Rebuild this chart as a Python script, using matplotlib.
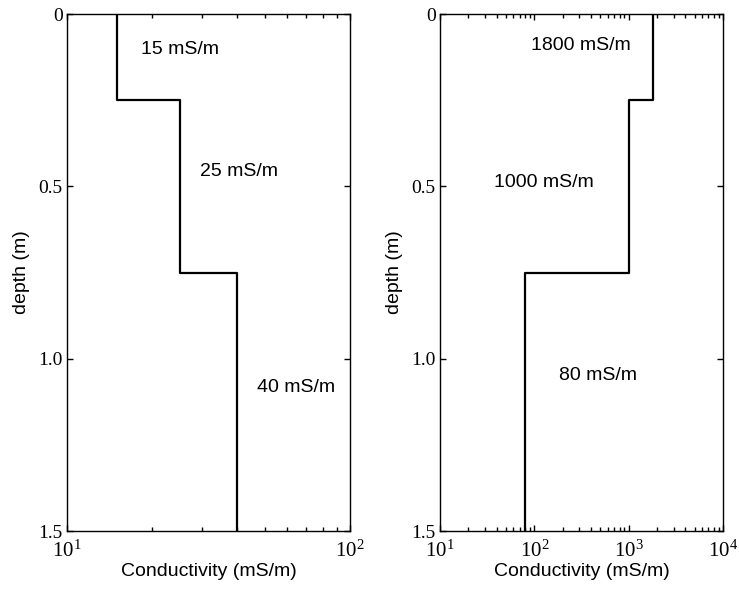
import matplotlib
matplotlib.use("Agg")
import matplotlib.pyplot as plt
from matplotlib.ticker import FixedLocator, FuncFormatter, NullFormatter
import numpy as np

# layer boundaries (m) and conductivities (mS/m)
depth_bounds = [0, 0.25, 0.75, 1.5]
cond_left = [15, 25, 40]
cond_right = [1800, 1000, 80]

labels_left = ['15 mS/m', '25 mS/m', '40 mS/m']
labels_right = ['1800 mS/m', '1000 mS/m', '80 mS/m']
# text anchor (left edge, centre) in data coords
lab_left_x = [18.3, 29.5, 47.0]
lab_left_y = [0.104, 0.458, 1.085]
lab_right_x = [92, 37, 183]
lab_right_y = [0.090, 0.490, 1.050]

yticks = [0, 0.5, 1.0, 1.5]
yticklabels = ['0', '0.5', '1.0', '1.5']

plt.rcParams['mathtext.default'] = 'regular'
sans = 'Liberation Sans'
serif = 'Liberation Serif'


def profile(cond):
    xs = []
    ys = []
    for i, c in enumerate(cond):
        xs += [c, c]
        ys += [depth_bounds[i], depth_bounds[i + 1]]
    return xs, ys


def logfmt(v, pos):
    return r'$\mathregular{10^{%d}}$' % int(round(np.log10(v)))


def setup(ax, dec_lo, dec_hi):
    ax.set_xscale('log')
    ax.set_xlim(10 ** dec_lo, 10 ** dec_hi)
    ax.set_ylim(1.5, 0)
    ax.yaxis.set_major_locator(FixedLocator(yticks))
    ax.set_yticklabels(yticklabels)
    majors = [10.0 ** d for d in range(dec_lo, dec_hi + 1)]
    minors = [k * 10.0 ** d for d in range(dec_lo, dec_hi) for k in range(2, 10)]
    ax.xaxis.set_major_locator(FixedLocator(majors))
    ax.xaxis.set_minor_locator(FixedLocator(minors))
    ax.xaxis.set_major_formatter(FuncFormatter(logfmt))
    ax.xaxis.set_minor_formatter(NullFormatter())
    ax.tick_params(which='both', direction='in', top=True, right=True, width=1.0,
                   labelsize=14, labelfontfamily=serif)
    ax.tick_params(which='major', length=4.5)
    ax.tick_params(which='minor', length=3.2)
    ax.tick_params(axis='x', which='major', pad=7, labelsize=15)
    ax.tick_params(axis='y', which='major', pad=3)
    for s in ax.spines.values():
        s.set_linewidth(1.0)
    ax.set_xlabel('Conductivity (mS/m)', family=sans, fontsize=14, labelpad=1)
    ax.set_ylabel('depth (m)', family=sans, fontsize=14, labelpad=6)


fig = plt.figure(figsize=(7.39, 5.91), dpi=100)
ax1 = fig.add_axes([0.0907, 0.1015, 0.383, 0.8748])
ax2 = fig.add_axes([0.5954, 0.1015, 0.383, 0.8748])

setup(ax1, 1, 2)
setup(ax2, 1, 4)

x, y = profile(cond_left)
ax1.plot(x, y, color='black', lw=1.6)
x, y = profile(cond_right)
ax2.plot(x, y, color='black', lw=1.6)

for t, lx, ly in zip(labels_left, lab_left_x, lab_left_y):
    ax1.text(lx, ly, t, family=sans, fontsize=14, ha='left', va='center')
for t, lx, ly in zip(labels_right, lab_right_x, lab_right_y):
    ax2.text(lx, ly, t, family=sans, fontsize=14, ha='left', va='center')

fig.savefig('out.png', dpi=100)
